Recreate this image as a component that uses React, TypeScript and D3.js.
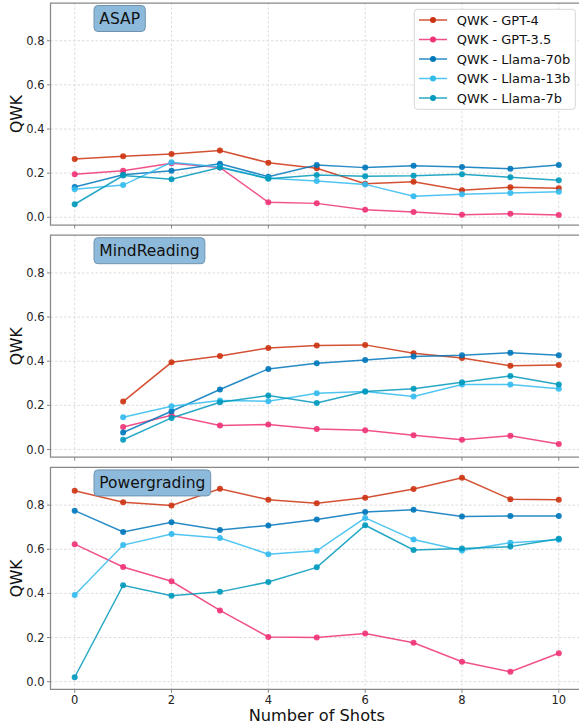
import React, { useEffect, useRef } from 'react';
import * as d3 from 'd3';

const shots = [0, 1, 2, 3, 4, 5, 6, 7, 8, 9, 10];
const models = ["GPT-4", "GPT-3.5", "Llama-70b", "Llama-13b", "Llama-7b"];
const colors = ["#CC3311", "#EE3377", "#0077BB", "#33BBEE", "#0099BB"];
const yTicks = [0, 0.2, 0.4, 0.6, 0.8];
const xTicks = [0, 2, 4, 6, 8, 10];
const datasets = ["ASAP", "MindReading", "Powergrading"];

// ASAP
const asapGpt4 = [0.264, 0.276, 0.287, 0.303, 0.247, 0.222, 0.152, 0.161, 0.122, 0.136, 0.131];
const asapGpt35 = [0.195, 0.211, 0.245, 0.226, 0.068, 0.063, 0.034, 0.024, 0.012, 0.016, 0.010];
const asapLlama70 = [0.137, 0.193, 0.211, 0.243, 0.184, 0.237, 0.225, 0.234, 0.228, 0.220, 0.237];
const asapLlama13 = [0.127, 0.146, 0.249, 0.228, 0.177, 0.164, 0.149, 0.095, 0.104, 0.110, 0.116];
const asapLlama7 = [0.059, 0.189, 0.172, 0.225, 0.175, 0.192, 0.186, 0.188, 0.195, 0.181, 0.168];

// MindReading (no 0-shot run)
const mindGpt4 = [null, 0.217, 0.395, 0.424, 0.460, 0.471, 0.474, 0.436, 0.415, 0.379, 0.383];
const mindGpt35 = [null, 0.102, 0.155, 0.109, 0.113, 0.093, 0.087, 0.065, 0.044, 0.062, 0.025];
const mindLlama70 = [null, 0.077, 0.173, 0.272, 0.365, 0.391, 0.406, 0.421, 0.427, 0.438, 0.427];
const mindLlama13 = [null, 0.146, 0.196, 0.222, 0.219, 0.255, 0.263, 0.240, 0.294, 0.294, 0.275];
const mindLlama7 = [null, 0.044, 0.143, 0.214, 0.245, 0.211, 0.263, 0.275, 0.305, 0.333, 0.294];

// Powergrading
const powerGpt4 = [0.865, 0.813, 0.798, 0.874, 0.824, 0.808, 0.833, 0.873, 0.924, 0.827, 0.824];
const powerGpt35 = [0.623, 0.520, 0.455, 0.323, 0.203, 0.200, 0.218, 0.176, 0.090, 0.045, 0.129];
const powerLlama70 = [0.775, 0.678, 0.722, 0.687, 0.708, 0.735, 0.769, 0.779, 0.748, 0.751, 0.751];
const powerLlama13 = [0.393, 0.619, 0.669, 0.651, 0.578, 0.593, 0.742, 0.644, 0.594, 0.630, 0.643];
const powerLlama7 = [0.020, 0.437, 0.389, 0.407, 0.452, 0.518, 0.709, 0.597, 0.604, 0.612, 0.648];

const series = [
  [asapGpt4, asapGpt35, asapLlama70, asapLlama13, asapLlama7],
  [mindGpt4, mindGpt35, mindLlama70, mindLlama13, mindLlama7],
  [powerGpt4, powerGpt35, powerLlama70, powerLlama13, powerLlama7],
];

const W = 579;
const H = 726;
const font = "DejaVu Sans, sans-serif";

const App = () => {
  const ref = useRef<SVGSVGElement>(null);

  useEffect(() => {
    const svg = d3.select(ref.current);
    svg.selectAll("*").remove();

    const left = 50.5;
    const panelH = 222;
    const step = 232.2;
    const axisColor = "#888";

    const x = d3.scaleLinear().domain([-0.5, 10.5]).range([left, 583]);

    series.forEach((lines, i) => {
      const top = 3 + i * step;
      const bottom = top + panelH;
      const y = d3.scaleLinear().domain([-0.035, 0.971]).range([bottom, top]);
      const g = svg.append("g");

      // grid
      g.selectAll(".gx").data(xTicks).enter().append("line")
        .attr("x1", d => x(d)).attr("x2", d => x(d))
        .attr("y1", top).attr("y2", bottom)
        .attr("stroke", "#d4d4d4").attr("stroke-width", 0.8)
        .attr("stroke-dasharray", "2.5,2");
      g.selectAll(".gy").data(yTicks).enter().append("line")
        .attr("x1", left).attr("x2", W)
        .attr("y1", d => y(d)).attr("y2", d => y(d))
        .attr("stroke", "#d4d4d4").attr("stroke-width", 0.8)
        .attr("stroke-dasharray", "2.5,2");

      // lines + markers
      const line = d3.line<number | null>()
        .defined(d => d !== null)
        .x((d, j) => x(shots[j]))
        .y(d => y(d as number));

      lines.forEach((vals, k) => {
        g.append("path")
          .attr("d", line(vals))
          .attr("fill", "none")
          .attr("stroke", colors[k])
          .attr("stroke-width", 1.5)
          .attr("stroke-opacity", 0.85);
        g.selectAll(".m" + k)
          .data(vals.map((v, j) => [shots[j], v]).filter(p => p[1] !== null))
          .enter().append("circle")
          .attr("cx", d => x(d[0] as number))
          .attr("cy", d => y(d[1] as number))
          .attr("r", 3)
          .attr("fill", colors[k])
          .attr("fill-opacity", 0.9);
      });

      // spines
      g.append("path")
        .attr("d", `M${W + 5},${top}H${left}V${bottom}H${W + 5}`)
        .attr("fill", "none").attr("stroke", axisColor).attr("stroke-width", 1.25);

      // y ticks
      yTicks.forEach(t => {
        g.append("line").attr("x1", left - 3.5).attr("x2", left)
          .attr("y1", y(t)).attr("y2", y(t))
          .attr("stroke", axisColor).attr("stroke-width", 1);
        g.append("text").attr("x", left - 6).attr("y", y(t))
          .attr("dy", "0.35em").attr("text-anchor", "end")
          .attr("font-family", font).attr("font-size", 11.5).attr("fill", "#222")
          .text(d3.format(".1f")(t));
      });

      // x ticks
      xTicks.forEach(t => {
        g.append("line").attr("x1", x(t)).attr("x2", x(t))
          .attr("y1", bottom).attr("y2", bottom + 3.5)
          .attr("stroke", axisColor).attr("stroke-width", 1);
        if (i === 2) {
          g.append("text").attr("x", x(t)).attr("y", bottom + 15)
            .attr("text-anchor", "middle")
            .attr("font-family", font).attr("font-size", 11.5).attr("fill", "#222")
            .text(t);
        }
      });

      // y label
      g.append("text")
        .attr("transform", `translate(22,${(top + bottom) / 2}) rotate(-90)`)
        .attr("text-anchor", "middle")
        .attr("font-family", font).attr("font-size", 15.6).attr("fill", "#111")
        .text("QWK");

      // dataset title box
      const title = g.append("g").attr("transform", `translate(94,${top + 2.5})`);
      const txt = title.append("text")
        .attr("x", 5.3).attr("y", 18.5)
        .attr("font-family", font).attr("font-size", 15.5).attr("fill", "#111")
        .text(datasets[i]);
      const bw = (txt.node() as SVGTextElement).getComputedTextLength() + 10.6;
      title.insert("rect", "text")
        .attr("width", bw).attr("height", 26)
        .attr("rx", 4)
        .attr("fill", "#8DBADB")
        .attr("stroke", "#6F93AE").attr("stroke-width", 1);
    });

    // x label
    svg.append("text")
      .attr("x", x(5)).attr("y", 721)
      .attr("text-anchor", "middle")
      .attr("font-family", font).attr("font-size", 16.2).attr("fill", "#111")
      .text("Number of Shots");

    // legend
    const lg = svg.append("g").attr("transform", "translate(414.3,9.3)");
    lg.append("rect").attr("width", 161).attr("height", 100).attr("rx", 3)
      .attr("fill", "white").attr("fill-opacity", 0.85)
      .attr("stroke", "#d6d6d6").attr("stroke-width", 1);
    models.forEach((m, k) => {
      const cy = 10.7 + k * 19.5;
      lg.append("line").attr("x1", 4.7).attr("x2", 32.7)
        .attr("y1", cy).attr("y2", cy)
        .attr("stroke", colors[k]).attr("stroke-width", 1.5).attr("stroke-opacity", 0.85);
      lg.append("circle").attr("cx", 18.7).attr("cy", cy).attr("r", 3).attr("fill", colors[k]);
      lg.append("text").attr("x", 42.4).attr("y", cy).attr("dy", "0.36em")
        .attr("font-family", font).attr("font-size", 13).attr("fill", "#111")
        .text("QWK - " + m);
    });
  }, []);

  return (
    <svg ref={ref} width={W} height={H}
      style={{ position: "absolute", left: 0, top: 0, background: "white" }} />
  );
};

export default App;
